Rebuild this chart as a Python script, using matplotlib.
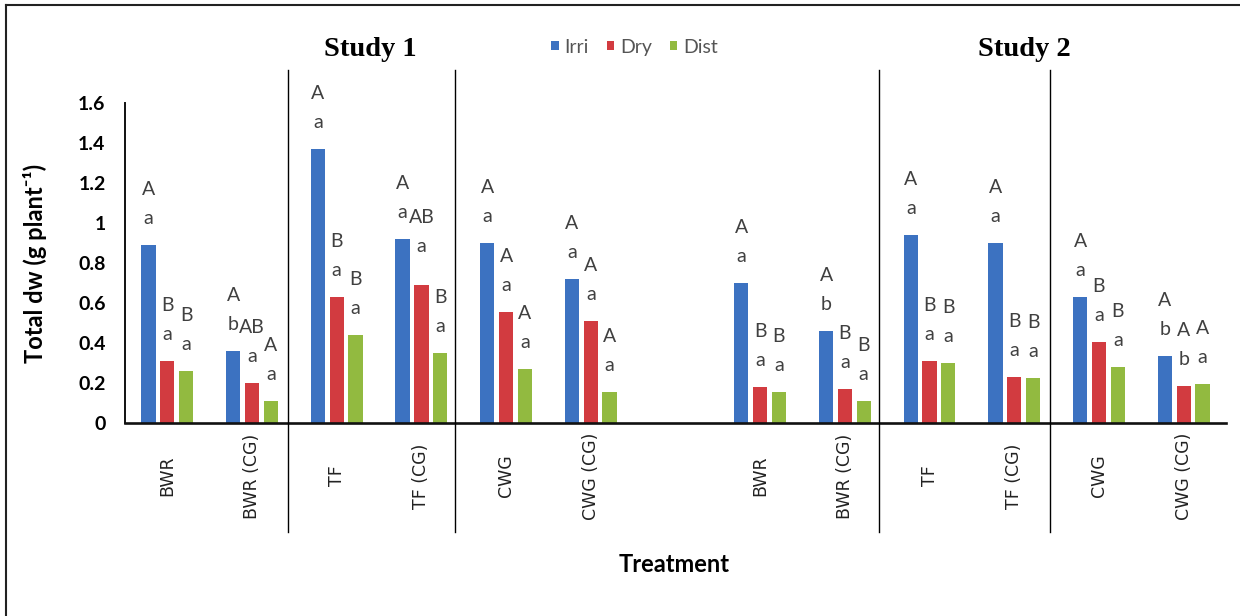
import numpy as np
import matplotlib
matplotlib.use("Agg")
import matplotlib.pyplot as plt
from matplotlib.lines import Line2D
from matplotlib.patches import Patch
from matplotlib.transforms import blended_transform_factory

# ---- data -------------------------------------------------------------
treatments = ["BWR", "BWR (CG)", "TF", "TF (CG)", "CWG", "CWG (CG)",
              "BWR", "BWR (CG)", "TF", "TF (CG)", "CWG", "CWG (CG)"]
series_names = ["Irri", "Dry", "Dist"]

irri = [0.89, 0.36, 1.37, 0.92, 0.90, 0.72, 0.70, 0.46, 0.94, 0.90, 0.63, 0.335]
dry = [0.31, 0.20, 0.63, 0.69, 0.555, 0.51, 0.18, 0.17, 0.31, 0.23, 0.405, 0.185]
dist = [0.26, 0.11, 0.44, 0.35, 0.27, 0.155, 0.155, 0.11, 0.30, 0.225, 0.28, 0.195]

# significance letters: upper case (between water regimes), lower case (between treatments)
irri_upper = ["A", "A", "A", "A", "A", "A", "A", "A", "A", "A", "A", "A"]
dry_upper = ["B", "AB", "B", "AB", "A", "A", "B", "B", "B", "B", "B", "A"]
dist_upper = ["B", "A", "B", "B", "A", "A", "B", "B", "B", "B", "B", "A"]
irri_lower = ["a", "b", "a", "a", "a", "a", "a", "b", "a", "a", "a", "b"]
dry_lower = ["a", "a", "a", "a", "a", "a", "a", "a", "a", "a", "a", "b"]
dist_lower = ["a", "a", "a", "a", "a", "a", "a", "a", "a", "a", "a", "a"]

study_titles = ["Study 1", "Study 2"]
y_ticks = [0, 0.2, 0.4, 0.6, 0.8, 1.0, 1.2, 1.4, 1.6]

# ---- styling ----------------------------------------------------------
colors = ["#3C72C1", "#D23B40", "#92BA40"]
letter_color = "#404040"
plt.rcParams["font.family"] = ["Lato", "DejaVu Sans"]

fig = plt.figure(figsize=(12.4, 6.16), dpi=100)
ax = fig.add_axes([0.1008, 0.3128, 0.8879, 0.5195])

# the two studies are separated by one empty slot
pos = np.array([i + (1 if i >= 6 else 0) for i in range(len(treatments))], dtype=float)
bar_w = 0.168
step = 0.222

values = [irri, dry, dist]
uppers = [irri_upper, dry_upper, dist_upper]
lowers = [irri_lower, dry_lower, dist_lower]
# small manual lift for a crowded label pair (series index, treatment index)
lift = {(1, 3): 0.06}

for s, (vals, col) in enumerate(zip(values, colors)):
    xs = pos + (s - 1) * step
    ax.bar(xs, vals, width=bar_w, color=col, zorder=2)
    for k, (x, v) in enumerate(zip(xs, vals)):
        extra = lift.get((s, k), 0.0)
        ax.text(x, v + 0.105 + extra, lowers[s][k], ha="center", va="baseline",
                fontsize=14, color=letter_color)
        ax.text(x, v + 0.25 + extra, uppers[s][k], ha="center", va="baseline",
                fontsize=14, color=letter_color)

ax.set_xlim(-0.5, 12.5)
ax.set_ylim(0, 1.6)
ax.set_yticks(y_ticks)
ax.set_yticklabels([f"{t:g}" for t in y_ticks], fontsize=14, fontweight="bold")
ax.tick_params(axis="y", length=0, pad=14)
ax.set_xticks(pos)
ax.set_xticklabels(treatments, rotation=90, fontsize=12.5,
                   family="DejaVu Sans", color="#222222", va="center", ha="center")
ax.tick_params(axis="x", length=0, pad=38)

for side in ("top", "right"):
    ax.spines[side].set_visible(False)
ax.spines["left"].set_linewidth(1.4)
ax.spines["bottom"].set_linewidth(1.9)
ax.spines["left"].set_color("#111111")
ax.spines["bottom"].set_color("#111111")

ax.set_ylabel("Total dw (g plant\u207b\u00b9)", fontsize=17, fontweight="bold",
              family=["Lato", "DejaVu Sans"], labelpad=22)
fig.text(0.5435, 0.083, "Treatment", ha="center", va="center",
         fontsize=17, fontweight="bold")

# dividers between treatment families
blend = blended_transform_factory(ax.transData, fig.transFigure)
for xd in (1.42, 3.40, 8.40, 10.42):
    fig.add_artist(Line2D([xd, xd], [0.1364, 0.8864], transform=blend,
                          color="black", linewidth=1.0))

# study titles
for xt, title in zip((0.299, 0.826), study_titles):
    fig.text(xt, 0.919, title, ha="center", va="center", fontsize=20.5,
             fontweight="bold", family="Liberation Serif")

# legend
handles = [Patch(facecolor=c, edgecolor="none") for c in colors]
fig.legend(handles, series_names, loc="center", bbox_to_anchor=(0.5117, 0.9237),
           ncol=3, frameon=False, fontsize=14, handlelength=0.4, handleheight=0.4,
           handletextpad=0.3, columnspacing=0.9, labelcolor="#555555")

# outer frame (left and top edges)
fig.add_artist(Line2D([6 / 1240, 6 / 1240], [0, 1 - 5 / 616], transform=fig.transFigure,
                      color="#222222", linewidth=1.5))
fig.add_artist(Line2D([6 / 1240, 1], [1 - 5 / 616, 1 - 5 / 616], transform=fig.transFigure,
                      color="#222222", linewidth=1.5))

fig.savefig("out.png", dpi=100, facecolor="white")
